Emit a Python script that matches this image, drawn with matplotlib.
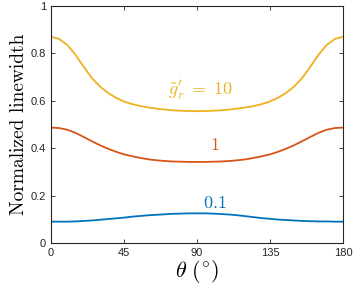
import numpy as np
import matplotlib
matplotlib.use("Agg")
import matplotlib.pyplot as plt

plt.rcParams["mathtext.fontset"] = "cm"

theta = list(range(0, 181, 5))

g10 = [0.870, 0.861, 0.836, 0.795, 0.745, 0.698, 0.661, 0.634, 0.613, 0.597,
       0.586, 0.578, 0.572, 0.567, 0.563, 0.560, 0.558, 0.557, 0.556,
       0.557, 0.558, 0.560, 0.563, 0.567, 0.572, 0.578, 0.586, 0.597, 0.613,
       0.634, 0.661, 0.698, 0.745, 0.795, 0.836, 0.861, 0.870]

g1 = [0.487, 0.485, 0.478, 0.465, 0.448, 0.430, 0.413, 0.398, 0.385, 0.374,
      0.366, 0.359, 0.353, 0.349, 0.346, 0.344, 0.343, 0.342, 0.342,
      0.342, 0.343, 0.344, 0.346, 0.349, 0.353, 0.359, 0.366, 0.374, 0.385,
      0.398, 0.413, 0.430, 0.448, 0.465, 0.478, 0.485, 0.487]

g01 = [0.090, 0.090, 0.090, 0.091, 0.093, 0.095, 0.098, 0.101, 0.104, 0.107,
       0.111, 0.114, 0.117, 0.119, 0.121, 0.123, 0.124, 0.125, 0.125,
       0.125, 0.124, 0.122, 0.120, 0.117, 0.113, 0.109, 0.105, 0.102, 0.099,
       0.097, 0.095, 0.093, 0.092, 0.091, 0.091, 0.090, 0.090]

xticks = [0, 45, 90, 135, 180]
yticks = [0, 0.2, 0.4, 0.6, 0.8, 1]
ytick_labels = ["0", "0.2", "0.4", "0.6", "0.8", "1"]

blue = "#0072BD"
red = "#D95319"
yellow = "#EDB120"

fig = plt.figure(figsize=(3.55, 2.84), dpi=100)
ax = fig.add_axes([0.1437, 0.1444, 0.8225, 0.8345])

ax.plot(theta, g10, color=yellow, lw=1.3)
ax.plot(theta, g1, color=red, lw=1.3)
ax.plot(theta, g01, color=blue, lw=1.3)

ax.text(92, 0.645, r"$\tilde{g}_r'\;=\;10$", color=yellow, fontsize=13, ha="center", va="center")
ax.text(101, 0.415, r"$1$", color=red, fontsize=13, ha="center", va="center")
ax.text(101, 0.168, r"$0.1$", color=blue, fontsize=13, ha="center", va="center")

ax.set_xlim(0, 180)
ax.set_ylim(0, 1)
ax.set_xticks(xticks)
ax.set_yticks(yticks)
ax.set_yticklabels(ytick_labels)
ax.tick_params(direction="in", top=True, right=True, labelsize=8, length=3,
               width=0.6, colors="#262626")
for lab in ax.get_xticklabels() + ax.get_yticklabels():
    lab.set_fontfamily("Liberation Sans")
for s in ax.spines.values():
    s.set_color("#262626")
    s.set_linewidth(0.8)

ax.set_ylabel("Normalized linewidth", fontfamily="cmr10", fontsize=14, labelpad=2)
ax.set_xlabel(r"$\theta\ (^{\circ})$", fontsize=16, labelpad=0)

fig.savefig("out.png", dpi=100)
